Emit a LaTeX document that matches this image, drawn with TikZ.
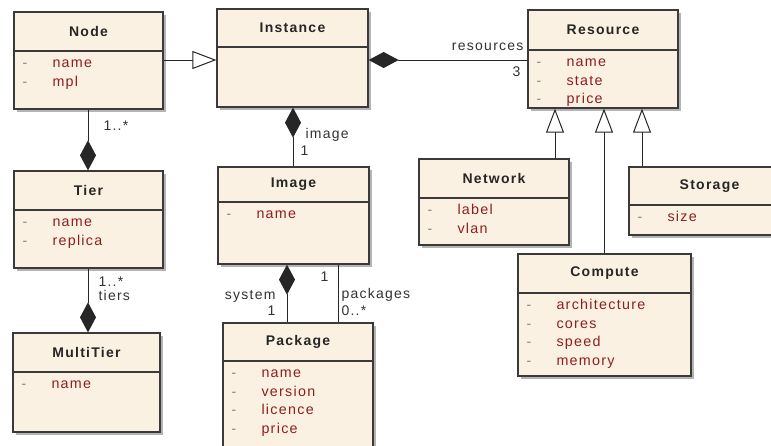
\documentclass[tikz,border=0pt]{standalone}
\usepackage{fontspec}
\setsansfont{Liberation Sans}[LetterSpace=9]
\usetikzlibrary{arrows.meta, fit, shadows}
\definecolor{cbeige}{HTML}{FBF1E3}
\definecolor{cborder}{HTML}{3A3A3A}
\definecolor{cattr}{HTML}{8E1F1F}
\definecolor{cshadow}{HTML}{B4B4B4}
\tikzset{
  every picture/.style={font=\sffamily, line width=1pt},
  classbox/.style={draw=cborder, fill=cbeige, line width=1.3pt, inner sep=0pt,
    drop shadow={shadow xshift=2.5pt, shadow yshift=-2.5pt, fill=cshadow, opacity=1}},
  classline/.style={draw=cborder, line width=1.3pt},
  classtitle/.style={font=\sffamily\bfseries\fontsize{14}{16}\selectfont, text=black!85},
  attr/.style={anchor=west, inner sep=0pt, text height=10pt, text depth=3pt,
    font=\sffamily\fontsize{14.3}{16}\selectfont, text=cattr},
  attrdash/.style={inner sep=0pt, text height=10pt, text depth=3pt,
    font=\sffamily\fontsize{14}{16}\selectfont, text=black!50},
  mult/.style={inner sep=0pt, text height=10pt, text depth=3pt,
    font=\sffamily\fontsize{14}{16}\selectfont, text=black!80},
  gen/.style={-{Triangle[length=24pt, width=18pt, fill=white]}, draw=black!85},
  comp/.style={{Diamond[length=30pt, width=16pt]}-, draw=black!85},
  assoc/.style={draw=black!85},
}

\begin{document}
\begin{tikzpicture}[x=1pt, y=-1pt]
  \useasboundingbox (0,0) rectangle (771,445);
  \fill[white] (0,0) rectangle (771,445);
  \clip (0,0) rectangle (771,445);
  % name, left, top, right, bottom, header line, title, attributes
  \newcommand{\umlclass}[8]{%
    \node[classbox, fit={(#2,#3) (#4,#5)}] (#1) {};
    \draw[classline] (#1.west |- 0,#6) -- (#1.east |- 0,#6);
    \node[classtitle] (#1-title) at ({(#2+#4)/2},{(#3+#6)/2}) {#7};
    \foreach \a [count=\k] in {#8} {
      \node[attrdash] (#1-dash\k) at ({#2+11},{#6+18.7*\k-5.7}) {-};
      \node[attr] (#1-attr\k) at ({#2+38},{#6+18.7*\k-5.7}) {\a};
    }
  }
  % ---- classes
  \umlclass{node}{14}{12}{163}{109}{51}{Node}{name,mpl}
  \node[classbox, fit={(217,9) (368,107)}] (instance) {};
  \draw[classline] (instance.west |- 0,47) -- (instance.east |- 0,47);
  \node[classtitle] (instance-title) at (292.5,28) {Instance};
  \umlclass{resource}{528}{10}{678}{108}{50}{Resource}{name,state,price}
  \umlclass{tier}{14}{171}{163}{268}{210}{Tier}{name,replica}
  \umlclass{multitier}{13}{333}{160}{432}{372}{MultiTier}{name}
  \umlclass{image}{218}{167}{369}{264}{202}{Image}{name}
  \umlclass{package}{223}{323}{373}{470}{361}{Package}{name,version,licence,price}
  \umlclass{network}{419}{159}{569}{245}{198}{Network}{label,vlan}
  \umlclass{storage}{629}{167}{790}{235}{205}{Storage}{size}
  \umlclass{compute}{518}{254}{691}{376}{293}{Compute}{architecture,cores,speed,memory}
  % ---- generalizations
  \draw[gen] (node.east |- 0,60) -- (instance.west |- 0,60);
  \draw[gen] (network.north -| 555,0) -- (resource.south -| 555,0);
  \draw[gen] (compute.north -| 604,0) -- (resource.south -| 604,0);
  \draw[gen] (storage.north -| 642,0) -- (resource.south -| 642,0);
  % ---- compositions
  \draw[comp] (instance.east |- 0,60) -- (resource.west |- 0,60);
  \draw[comp] (instance.south -| 293,0) -- (image.north -| 293,0);
  \draw[comp] (tier.north -| 88,0) -- (node.south -| 88,0);
  \draw[comp] (multitier.north -| 88,0) -- (tier.south -| 88,0);
  \draw[comp] (image.south -| 287,0) -- (package.north -| 287,0);
  \draw[assoc] (image.south -| 338,0) -- (package.north -| 338,0);
  % ---- role names and multiplicities
  \node[mult, anchor=east] (lbl-resources) at (524,47) {resources};
  \node[mult, anchor=east] (lbl-three) at (521,73) {3};
  \node[mult, anchor=west] (lbl-image) at (305,135) {image};
  \node[mult, anchor=west] (lbl-imageone) at (300,152) {1};
  \node[mult, anchor=west] (lbl-nodetier) at (103,127) {1..*};
  \node[mult, anchor=west] (lbl-tiersmult) at (98,283) {1..*};
  \node[mult, anchor=west] (lbl-tiers) at (98,297) {tiers};
  \node[mult, anchor=east] (lbl-system) at (276,296) {system};
  \node[mult, anchor=east] (lbl-systemone) at (276,312) {1};
  \node[mult, anchor=east] (lbl-pkgone) at (329,278) {1};
  \node[mult, anchor=west] (lbl-packages) at (341,295) {packages};
  \node[mult, anchor=west] (lbl-pkgmult) at (341,312) {0..*};
\end{tikzpicture}
\end{document}
